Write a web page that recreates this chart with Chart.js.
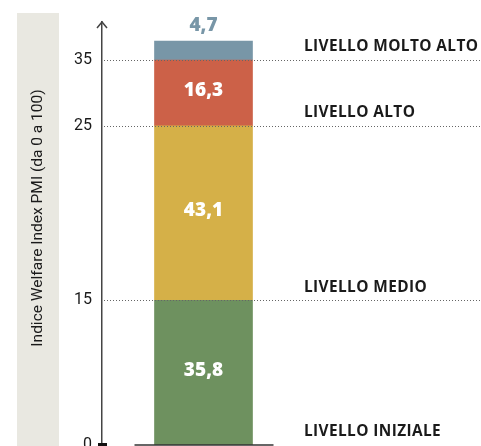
<!DOCTYPE html>
<html lang="it">
<head>
<meta charset="utf-8">
<title>Indice Welfare Index PMI</title>
<script src="https://cdn.jsdelivr.net/npm/chart.js@4.4.1/dist/chart.umd.min.js"></script>
<style>
  html, body { margin: 0; padding: 0; background: #ffffff; }
  #wrap { width: 481px; height: 446px; }
</style>
</head>
<body>
<div id="wrap"><canvas id="chart" width="481" height="446"></canvas></div>
<script>
// Data
const CATEGORIES = ["PMI"];
const LEVEL_NAMES = ["LIVELLO INIZIALE", "LIVELLO MEDIO", "LIVELLO ALTO", "LIVELLO MOLTO ALTO"];
const SHARE_VALUES = [35.8, 43.1, 16.3, 4.7];
const TICK_LABELS = ["0", "15", "25", "35"];
const AXIS_TITLE = "Indice Welfare Index PMI (da 0 a 100)";

// Styles
const LEVEL_COLORS = ["#6e915f", "#d5b048", "#cc6148", "#7896a7"];
const BAND_COLOR = "#e9e8e1";
const AXIS_COLOR = "#444444";
const TEXT_COLOR = "#1a1a1a";

// level boundaries on the stacked scale (start of each level)
const boundaries = [];
SHARE_VALUES.reduce((acc, v) => { boundaries.push(acc); return acc + v; }, 0);

const fmt = (v) => v.toFixed(1).replace(".", ",");

const decorPlugin = {
  id: "decor",
  beforeDraw(chart) {
    const { ctx } = chart;
    // grey band behind the axis title
    ctx.save();
    ctx.fillStyle = BAND_COLOR;
    ctx.fillRect(17, 13, 42, chart.height - 13);
    ctx.translate(38, 218);
    ctx.rotate(-Math.PI / 2);
    ctx.fillStyle = TEXT_COLOR;
    ctx.font = "15.5px Roboto";
    ctx.textAlign = "center";
    ctx.textBaseline = "middle";
    ctx.fillText(AXIS_TITLE, 0, 0);
    ctx.restore();
  },
  afterDatasetsDraw(chart) {
    const { ctx, chartArea } = chart;
    const yScale = chart.scales.y;
    const x0 = chartArea.left;

    // dotted level lines (drawn above the bar)
    ctx.save();
    ctx.strokeStyle = "#666666";
    ctx.lineWidth = 1;
    ctx.setLineDash([1, 2]);
    boundaries.slice(1).forEach((b) => {
      const y = Math.round(yScale.getPixelForValue(b)) + 0.5;
      ctx.beginPath();
      ctx.moveTo(x0 + 2, y);
      ctx.lineTo(chart.width, y);
      ctx.stroke();
    });
    ctx.restore();

    // level names on the right
    ctx.save();
    ctx.fillStyle = TEXT_COLOR;
    ctx.font = "bold 15.4px 'Open Sans'";
    ctx.letterSpacing = "0.4px";
    ctx.textAlign = "left";
    ctx.textBaseline = "middle";
    boundaries.forEach((b, i) => {
      const y = yScale.getPixelForValue(b);
      ctx.fillText(LEVEL_NAMES[i], chartArea.right - 1, y - 13);
    });
    ctx.restore();

    // value labels
    ctx.save();
    ctx.font = "800 19px 'Open Sans'";
    ctx.textAlign = "center";
    ctx.textBaseline = "middle";
    chart.data.datasets.forEach((ds, i) => {
      const bar = chart.getDatasetMeta(i).data[0];
      const v = ds.data[0];
      if (i === chart.data.datasets.length - 1) {
        ctx.fillStyle = LEVEL_COLORS[i];
        ctx.fillText(fmt(v), bar.x, bar.y - 15);
      } else {
        ctx.fillStyle = "#ffffff";
        ctx.fillText(fmt(v), bar.x, (bar.y + bar.base) / 2 - 2);
      }
    });
    ctx.restore();

    // baseline under the bar and zero tick
    const first = chart.getDatasetMeta(0).data[0];
    const yb = yScale.getPixelForValue(0);
    ctx.save();
    ctx.strokeStyle = "#333333";
    ctx.lineWidth = 1.5;
    ctx.beginPath();
    ctx.moveTo(first.x - first.width / 2 - 20, yb);
    ctx.lineTo(first.x + first.width / 2 + 21, yb);
    ctx.stroke();
    ctx.fillStyle = "#111111";
    ctx.fillRect(x0 - 4, yb - 2, 9, 4);

    // arrow head on the axis
    ctx.strokeStyle = AXIS_COLOR;
    ctx.lineWidth = 1.5;
    ctx.beginPath();
    ctx.moveTo(x0 - 5, chartArea.top + 6);
    ctx.lineTo(x0, chartArea.top);
    ctx.lineTo(x0 + 5, chartArea.top + 6);
    ctx.stroke();
    ctx.restore();
  }
};

new Chart(document.getElementById("chart"), {
  type: "bar",
  data: {
    labels: CATEGORIES,
    datasets: SHARE_VALUES.map((v, i) => ({
      label: LEVEL_NAMES[i],
      data: [v],
      backgroundColor: LEVEL_COLORS[i],
      borderWidth: 0,
      barThickness: 98
    }))
  },
  options: {
    responsive: false,
    animation: false,
    devicePixelRatio: 1,
    layout: { padding: { top: 22, right: 176, bottom: 1, left: 0 } },
    plugins: { legend: { display: false }, tooltip: { enabled: false } },
    scales: {
      x: { stacked: true, display: false },
      y: {
        stacked: true,
        min: 0,
        max: 104.6,
        afterFit(scale) {
          scale.width = 102;
          scale.paddingTop = 0;
          scale.paddingBottom = 0;
        },
        afterBuildTicks(scale) {
          scale.ticks = boundaries.map((b) => ({ value: b }));
        },
        ticks: {
          padding: 10,
          color: TEXT_COLOR,
          font: { family: "Roboto", size: 16 },
          callback(value, index) { return TICK_LABELS[index]; }
        },
        grid: { display: false, drawTicks: false, tickLength: 0 },
        border: { display: true, color: AXIS_COLOR, width: 1.5 }
      }
    }
  },
  plugins: [decorPlugin]
});
</script>
</body>
</html>
